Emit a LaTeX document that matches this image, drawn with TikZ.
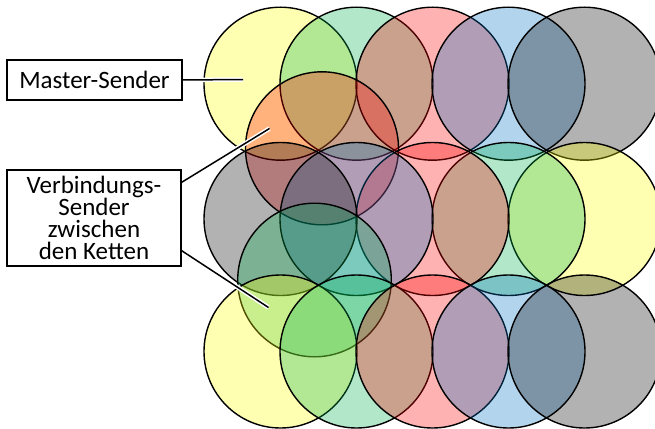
\documentclass[tikz,border=0pt]{standalone}
\usepackage{fontspec}
\setmainfont{Carlito}
\definecolor{cyel}{HTML}{FFFF00}
\definecolor{cgrn}{HTML}{00B050}
\definecolor{cred}{HTML}{FF0000}
\definecolor{cblu}{HTML}{0070C0}
\definecolor{cgry}{HTML}{000000}
\begin{document}
\begin{tikzpicture}[x=1pt,y=-1pt,
  disc/.style={draw=black, line width=1.4pt, fill opacity=0.3},
  label box/.style={draw=black, line width=1.4pt, fill=white, inner sep=0pt,
    font=\fontsize{25}{22}\selectfont, align=center},
  leader/.style={draw=black, line width=1.5pt,
    preaction={draw=white, line width=4.5pt, shorten <=1.5pt}}]
\useasboundingbox (0,0) rectangle (655,428);

\begin{scope}
  \clip (0,0) rectangle (655,428);
  % upper chain, left to right
  \foreach \c [count=\i from 0] in {cyel,cgrn,cred,cblu,cgry}
    \path[disc, fill=\c] ({280.5+76*\i},83.7) circle[radius=76.5];
  % link between upper and middle chain
  \path[disc, fill=cred] (322,148.3) circle[radius=76.5];
  % middle chain, same colour sequence laid out right to left
  \foreach \c [count=\i from 0] in {cyel,cgrn,cred,cblu,cgry}
    \path[disc, fill=\c] ({584.5-76*\i},219) circle[radius=76.5];
  % link between middle and lower chain
  \path[disc, fill=cgrn] (314.5,280) circle[radius=76.8];
  % lower chain
  \foreach \c [count=\i from 0] in {cyel,cgrn,cred,cblu,cgry}
    \path[disc, fill=\c] ({280.5+76*\i},351.5) circle[radius=76.5];
\end{scope}

% labels
\node[label box, minimum width=175pt, minimum height=40pt] (ms) at (94.5,80) {Master-Sender};
\node[label box, minimum width=174pt, minimum height=96pt] (vs) at (94,218)
  {Verbindungs-\\Sender\\zwischen\\den Ketten};

\coordinate (mend) at (243,79.5);
\coordinate (v1end) at (269.5,128.5);
\coordinate (v2end) at (268.5,307.5);

\draw[leader] (ms.east) -- (mend);
\draw[leader] ([yshift=-13pt]vs.north east) -- (v1end);
\draw[leader] ([yshift=16pt]vs.south east) -- (v2end);
\end{tikzpicture}
\end{document}
